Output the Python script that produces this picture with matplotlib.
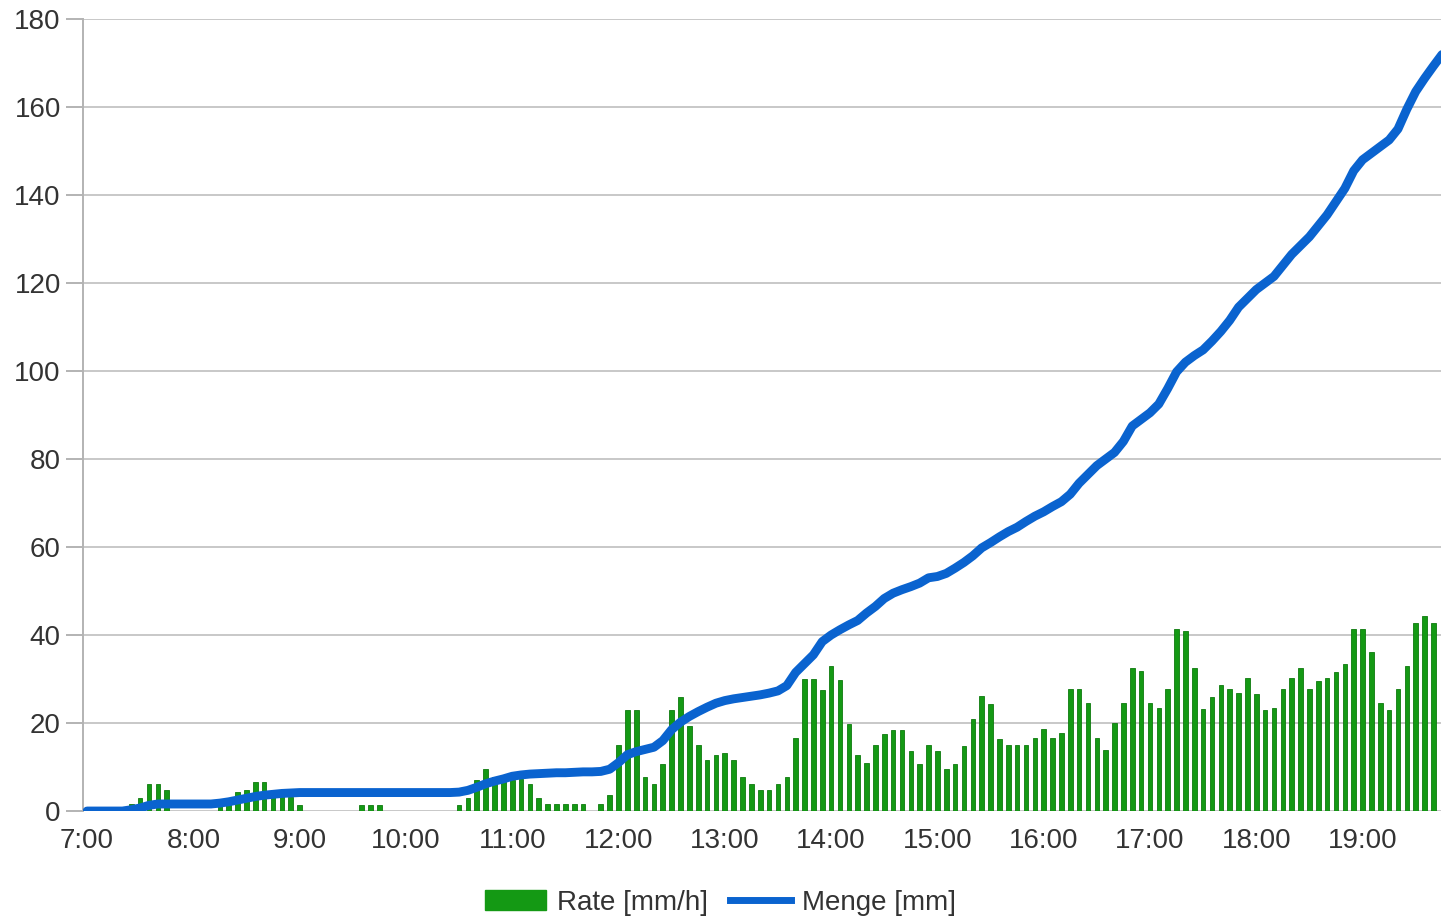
import numpy as np
import pandas as pd
import matplotlib
matplotlib.use("Agg")
import matplotlib.pyplot as plt
import matplotlib.dates as mdates
from matplotlib.patches import Patch
from matplotlib.lines import Line2D

plt.rcParams['font.family'] = ['Liberation Sans', 'DejaVu Sans']

# 5-minute readings, starting 7:00
start = "2021-07-14 07:00"

# Rate [mm/h], 7:00 .. 19:40
rate = [
    0, 0, 0, 0, 0, 1.5, 3.0, 6.2, 6.1, 4.8,              # 7:00 - 7:45
    0, 0, 0, 0, 0, 1.8, 2.6, 4.3, 4.8, 6.5,              # 7:50 - 8:35
    6.5, 4.5, 3.5, 3.3, 1.4, 0, 0, 0, 0, 0,              # 8:40 - 9:25
    0, 1.4, 1.4, 1.4, 0, 0, 0, 0, 0, 0,                  # 9:30 - 10:15
    0, 0, 1.4, 3.0, 7.0, 9.6, 7.7, 7.0, 7.0, 7.2,        # 10:20 - 11:05
    6.1, 3.0, 1.5, 1.5, 1.5, 1.5, 1.5, 0, 1.6, 3.6,      # 11:10 - 11:55
    15.1, 23.0, 23.0, 7.7, 6.1, 10.8, 23.0, 26.0, 19.3, 15.1,   # 12:00 - 12:45
    11.7, 12.7, 13.1, 11.7, 7.7, 6.1, 4.8, 4.8, 6.1, 7.7,       # 12:50 - 13:35
    16.6, 30.0, 30.0, 27.5, 33.0, 29.7, 19.7, 12.7, 10.9, 15.1, # 13:40 - 14:25
    17.6, 18.4, 18.4, 13.6, 10.7, 15.1, 13.6, 9.5, 10.7, 14.8,  # 14:30 - 15:15
    21.0, 26.2, 24.3, 16.4, 15.1, 15.1, 15.1, 16.6, 18.6, 16.7, # 15:20 - 16:05
    17.8, 27.8, 27.8, 24.6, 16.7, 13.9, 19.9, 24.6, 32.6, 31.8, # 16:10 - 16:55
    24.6, 23.5, 27.8, 41.4, 40.9, 32.6, 23.1, 26.0, 28.7, 27.8, # 17:00 - 17:45
    26.9, 30.3, 26.7, 23.0, 23.4, 27.8, 30.3, 32.6, 27.8, 29.5, # 17:50 - 18:35
    30.3, 31.7, 33.5, 41.4, 41.4, 36.1, 24.5, 23.0, 27.8, 33.0, # 18:40 - 19:25
    42.7, 44.3, 42.7,                                           # 19:30 - 19:40
]

# Menge [mm], 7:00 .. 19:45
menge = [
    0, 0, 0, 0, 0, 0.3, 0.7, 1.3, 1.6, 1.6,              # 7:00 - 7:45
    1.6, 1.6, 1.6, 1.6, 1.6, 1.8, 2.1, 2.5, 2.9, 3.3,    # 7:50 - 8:35
    3.6, 3.8, 4.0, 4.1, 4.2, 4.2, 4.2, 4.2, 4.2, 4.2,    # 8:40 - 9:25
    4.2, 4.2, 4.2, 4.2, 4.2, 4.2, 4.2, 4.2, 4.2, 4.2,    # 9:30 - 10:15
    4.2, 4.2, 4.3, 4.7, 5.4, 6.2, 6.8, 7.3, 7.9, 8.2,    # 10:20 - 11:05
    8.4, 8.5, 8.6, 8.7, 8.7, 8.8, 8.9, 8.9, 9.0, 9.5,    # 11:10 - 11:55
    11.0, 12.8, 13.5, 14.0, 14.5, 16.0, 18.5, 20.2, 21.5, 22.6,  # 12:00 - 12:45
    23.6, 24.5, 25.1, 25.5, 25.8, 26.1, 26.4, 26.8, 27.3, 28.5,  # 12:50 - 13:35
    31.5, 33.5, 35.5, 38.5, 40.0, 41.2, 42.3, 43.3, 45.0, 46.5,  # 13:40 - 14:25
    48.3, 49.5, 50.3, 51.0, 51.8, 53.0, 53.3, 54.0, 55.2, 56.5,  # 14:30 - 15:15
    58.0, 59.8, 61.0, 62.3, 63.5, 64.5, 65.8, 67.0, 68.0, 69.2,  # 15:20 - 16:05
    70.3, 72.0, 74.5, 76.5, 78.5, 80.0, 81.5, 84.0, 87.5, 89.0,  # 16:10 - 16:55
    90.5, 92.5, 96.0, 99.8, 102.0, 103.5, 104.8, 106.8, 109.0, 111.5,  # 17:00 - 17:45
    114.5, 116.5, 118.5, 120.0, 121.5, 124.0, 126.5, 128.5, 130.5, 133.0,  # 17:50 - 18:35
    135.5, 138.5, 141.5, 145.5, 148.0, 149.5, 151.0, 152.5, 155.0, 159.5,  # 18:40 - 19:25
    163.5, 166.5, 169.3, 172.0,                                            # 19:30 - 19:45
]

rate_times = pd.date_range(start, periods=len(rate), freq="5min")
menge_times = pd.date_range(start, periods=len(menge), freq="5min")

fig = plt.figure(figsize=(14.41, 9.21), dpi=100)
ax = fig.add_axes([0.0576, 0.1194, 0.9424, 0.8600])

bar_w = 4.6 / 106.3 / 24  # ~4.6 px in days
ax.bar(mdates.date2num(rate_times), rate, width=bar_w, color="#149914",
       edgecolor="#0d7a0d", linewidth=0.6, zorder=2)
ax.plot(mdates.date2num(menge_times), menge, color="#0a63cf", linewidth=6.4,
        solid_capstyle="round", solid_joinstyle="round", zorder=3)

t0 = mdates.date2num(pd.Timestamp(start))
ax.set_xlim(t0 - 0.038 / 24, t0 + 12.738 / 24)
ax.set_ylim(0, 180)
ax.set_yticks(np.arange(0, 181, 20))

hours = pd.date_range(start, periods=13, freq="1h")
ax.set_xticks(mdates.date2num(hours))
ax.set_xticklabels([f"{h.hour}:00" for h in hours])

ax.grid(axis="y", color="#c8c8c8", linewidth=1.4, zorder=0)
ax.set_axisbelow(True)
for s in ["top", "right", "bottom"]:
    ax.spines[s].set_visible(False)
ax.spines["left"].set_color("#b3b3b3")
ax.spines["left"].set_linewidth(1.4)
ax.tick_params(axis="y", length=12, width=1.4, color="#b3b3b3", labelsize=20,
               labelcolor="#333333", pad=4)
ax.tick_params(axis="x", length=0, labelsize=20, labelcolor="#333333", pad=12)

handles = [Patch(facecolor="#149914", edgecolor="#149914"),
           Line2D([0], [0], color="#0a63cf", linewidth=5)]
fig.legend(handles, ["Rate [mm/h]", "Menge [mm]"], loc="center",
           bbox_to_anchor=(0.5, 0.02), ncol=2, frameon=False, fontsize=20,
           handlelength=2.2, handleheight=0.7, columnspacing=0.8, handletextpad=0.4,
           labelcolor="#333333")

fig.savefig("out.png", dpi=100)
